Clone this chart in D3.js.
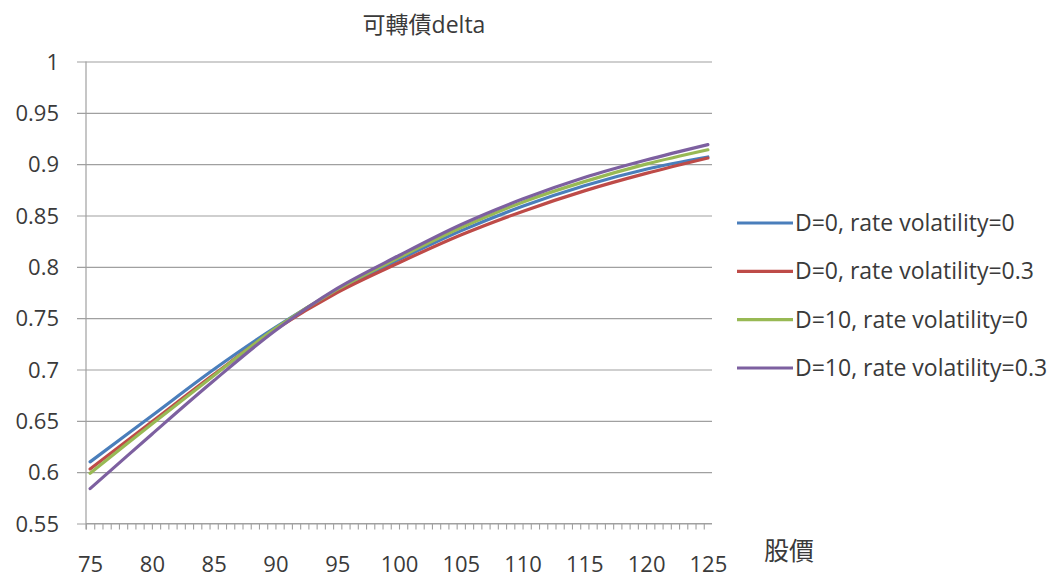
<!DOCTYPE html>
<html>
<head>
<meta charset="utf-8">
<script src="https://cdn.jsdelivr.net/npm/d3@7"></script>
<style>
  html, body { margin: 0; padding: 0; background: #ffffff; }
  svg { display: block; }
  text { font-family: "Open Sans", "Noto Sans CJK TC", sans-serif; fill: #3a3a3a; }
</style>
</head>
<body>
<svg id="chart" width="1059" height="583"></svg>
<script>
// Stock price (x) and convertible-bond delta for each scenario
const prices = [75, 80, 85, 90, 95, 100, 105, 110, 115, 120, 125];
const seriesNames = [
  "D=0, rate volatility=0",
  "D=0, rate volatility=0.3",
  "D=10, rate volatility=0",
  "D=10, rate volatility=0.3"
];
const deltaD0Rv0   = [0.610, 0.655, 0.700, 0.741, 0.777, 0.807, 0.835, 0.859, 0.879, 0.895, 0.907];
const deltaD0Rv03  = [0.603, 0.649, 0.695, 0.739, 0.775, 0.804, 0.831, 0.854, 0.874, 0.891, 0.906];
const deltaD10Rv0  = [0.599, 0.647, 0.694, 0.740, 0.778, 0.809, 0.838, 0.863, 0.883, 0.900, 0.914];
const deltaD10Rv03 = [0.584, 0.637, 0.689, 0.738, 0.779, 0.811, 0.841, 0.866, 0.887, 0.904, 0.919];
const seriesColors = ["#4a7ebb", "#be4b48", "#98b954", "#7d60a0"];
const yTicks = [0.55, 0.6, 0.65, 0.7, 0.75, 0.8, 0.85, 0.9, 0.95, 1];
const xLabels = [75, 80, 85, 90, 95, 100, 105, 110, 115, 120, 125];
const titleText = "可轉債delta";
const xAxisTitle = "股價";

const seriesValues = [deltaD0Rv0, deltaD0Rv03, deltaD10Rv0, deltaD10Rv03];
const series = seriesNames.map((name, i) => ({
  name, color: seriesColors[i],
  points: prices.map((p, j) => ({ x: p, y: seriesValues[i][j] }))
}));

const svg = d3.select("#chart");
const plot = { left: 86, right: 712, top: 61.5, bottom: 523.5 };

// Category-style axis: each step of 2/3 occupies one slot, points sit mid-slot
const half = 1 / 3;
const x = d3.scaleLinear().domain([75 - half, 125 + half]).range([plot.left, plot.right]);
const y = d3.scaleLinear().domain([0.55, 1]).range([plot.bottom, plot.top]);

const gridColor = "#a0a0a0";

// Horizontal gridlines with short ticks left of the axis
const yAxis = d3.axisLeft(y)
  .tickValues(yTicks)
  .tickSize(-(plot.right - plot.left))
  .tickPadding(27)
  .tickFormat(d => d3.format("")(+d.toFixed(2)));
const gy = svg.append("g").attr("transform", `translate(${plot.left},0)`).call(yAxis);
gy.select(".domain").remove();
gy.selectAll(".tick line").attr("stroke", gridColor).attr("stroke-width", 1.2)
  .attr("x1", -9);
gy.selectAll(".tick text").attr("font-size", 22).attr("fill", "#3a3a3a").attr("dy", "0.35em");

// Vertical axis line
svg.append("line")
  .attr("x1", plot.left).attr("x2", plot.left)
  .attr("y1", plot.top).attr("y2", plot.bottom + 6)
  .attr("stroke", gridColor).attr("stroke-width", 1.2);

// X axis: minor ticks at every slot boundary, labels every 5
const slotTicks = d3.range(0, 76).map(k => 75 - half + k * (2 * half));
const xMinor = d3.axisBottom(x).tickValues(slotTicks).tickSize(6).tickFormat("");
const gx = svg.append("g").attr("transform", `translate(0,${plot.bottom})`).call(xMinor);
gx.select(".domain").attr("stroke", gridColor).attr("stroke-width", 1.2).attr("d", `M${plot.left},0H${plot.right}`);
gx.selectAll(".tick line").attr("stroke", gridColor).attr("stroke-width", 1.1);

const xMajor = d3.axisBottom(x).tickValues(xLabels).tickSize(0).tickPadding(33).tickFormat(d3.format("d"));
const gxl = svg.append("g").attr("transform", `translate(0,${plot.bottom})`).call(xMajor);
gxl.select(".domain").remove();
gxl.selectAll(".tick text").attr("font-size", 22).attr("fill", "#3a3a3a");

// Series lines
const line = d3.line().x(d => x(d.x)).y(d => y(d.y)).curve(d3.curveCatmullRom.alpha(0.5));
svg.append("g").selectAll("path").data(series).join("path")
  .attr("d", d => line(d.points))
  .attr("fill", "none")
  .attr("stroke", d => d.color)
  .attr("stroke-width", 3.2)
  .attr("stroke-linejoin", "round")
  .attr("stroke-linecap", "round");

// Title
svg.append("text")
  .attr("x", 424).attr("y", 33)
  .attr("text-anchor", "middle")
  .attr("font-size", 23)
  .text(titleText);

// X-axis title
svg.append("text")
  .attr("x", 789).attr("y", 560)
  .attr("text-anchor", "middle")
  .attr("font-size", 25)
  .text(xAxisTitle);

// Legend
const legend = svg.append("g");
const rowY = d3.scaleLinear().domain([0, 3]).range([223, 368]);
const item = legend.selectAll("g").data(series).join("g")
  .attr("transform", (d, i) => `translate(737,${rowY(i)})`);
item.append("line")
  .attr("x1", 0).attr("x2", 56).attr("y1", 0).attr("y2", 0)
  .attr("stroke", d => d.color).attr("stroke-width", 3.2);
item.append("text")
  .attr("x", 58).attr("dy", "0.35em")
  .attr("font-size", 23)
  .text(d => d.name);
</script>
</body>
</html>
